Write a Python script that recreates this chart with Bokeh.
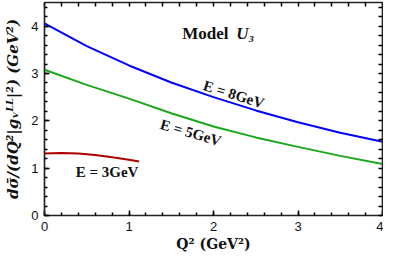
from bokeh.plotting import figure
from bokeh.models import Range1d, LinearAxis, SingleIntervalTicker, FixedTicker
from bokeh.core.properties import value
from bokeh.embed import file_html
from bokeh.resources import INLINE

# Data
q2_8 = [0.0, 0.5, 1.0, 1.5, 2.0, 2.5, 3.0, 3.5, 4.0]
xs_8 = [4.06, 3.58, 3.17, 2.81, 2.50, 2.22, 1.97, 1.75, 1.56]

q2_5 = [0.0, 0.5, 1.0, 1.5, 2.0, 2.5, 3.0, 3.5, 4.0]
xs_5 = [3.08, 2.76, 2.47, 2.16, 1.88, 1.65, 1.45, 1.26, 1.09]

q2_3 = [0.0, 0.2, 0.4, 0.6, 0.8, 1.0, 1.12]
xs_3 = [1.31, 1.32, 1.31, 1.28, 1.23, 1.18, 1.14]

x_ticks = [0, 1, 2, 3, 4]
y_ticks = [0, 1, 2, 3, 4]

labels = ["E = 8GeV", "E = 5GeV", "E = 3GeV"]
label_x = [2.24, 1.73, 0.74]
label_y = [2.56, 1.75, 0.92]

serif = "Liberation Serif"
math = "DejaVu Serif"
sans = "Liberation Sans"
ink = "#111111"

p = figure(width=383, height=254, output_backend="svg", toolbar_location=None,
           x_range=Range1d(0, 4), y_range=Range1d(0, 4.5),
           min_border_left=44, min_border_right=1, min_border_top=2, min_border_bottom=39,
           x_axis_label="Q² (GeV²)", y_axis_label="dσ̄/(dQ²|gᵥᴸᴸ|²) (GeV²)")
p.grid.visible = False
p.outline_line_color = "#222222"
p.outline_line_width = 1.2

for ax in [p.xaxis[0], p.yaxis[0]]:
    ax.ticker = SingleIntervalTicker(interval=1, num_minor_ticks=5)
    ax.major_tick_in = 5
    ax.major_tick_out = 0
    ax.minor_tick_in = 3
    ax.minor_tick_out = 0
    ax.major_tick_line_width = 1.5
    ax.minor_tick_line_width = 1.5
    ax.axis_line_width = 1.5
    ax.axis_line_color = "#222222"
    ax.major_label_text_font = sans
    ax.major_label_text_font_size = "13px"
    ax.major_label_text_color = ink
    ax.axis_label_text_font = math
    ax.axis_label_text_font_size = "15px"
    ax.axis_label_text_font_style = "bold"
    ax.axis_label_text_color = ink
p.yaxis[0].axis_label_text_font_style = "bold italic"
p.xaxis[0].axis_label_text_font_size = "14px"
p.yaxis[0].axis_label_standoff = 6
p.xaxis[0].axis_label_standoff = 2
p.xaxis[0].major_label_standoff = 6
p.yaxis[0].major_label_standoff = 6

# mirrored tick marks on top and right (no labels)
top_minor = [x_ticks[0] + 0.2 * i for i in range(int((x_ticks[-1] - x_ticks[0]) / 0.2) + 1)]
right_minor = [y_ticks[0] + 0.2 * i for i in range(int(4.5 / 0.2) + 1)]
for loc, mt in [("above", top_minor), ("right", right_minor)]:
    ax = LinearAxis(ticker=FixedTicker(ticks=[], minor_ticks=mt))
    ax.minor_tick_in = 4
    ax.minor_tick_out = 0
    ax.major_tick_out = 0
    ax.minor_tick_line_width = 1.5
    ax.axis_line_width = 1.5
    ax.axis_line_color = "#222222"
    ax.major_label_standoff = 0
    p.add_layout(ax, loc)

p.line(q2_8, xs_8, line_color="#0000ff", line_width=2)
p.line(q2_5, xs_5, line_color="#1aa81a", line_width=2)
p.line(q2_3, xs_3, line_color="#aa0000", line_width=2)

angles = [-0.30, -0.28, 0.0]
for t, x, y, a in zip(labels, label_x, label_y, angles):
    p.text(x=[x], y=[y], text=[t], angle=a, text_font=value(serif),
           text_font_size="15px", text_font_style="bold",
           text_align="center", text_baseline="middle", text_color=ink)

p.text(x=[1.63], y=[3.85], text=["Model"], text_font=value(serif),
       text_font_size="17px", text_font_style="bold",
       text_align="left", text_baseline="middle", text_color=ink)
p.text(x=[2.27], y=[3.85], text=["U₃"], text_font=value(serif),
       text_font_size="17px", text_font_style="bold italic",
       text_align="left", text_baseline="middle", text_color=ink)

open("out.html", "w").write(file_html(p, INLINE))
